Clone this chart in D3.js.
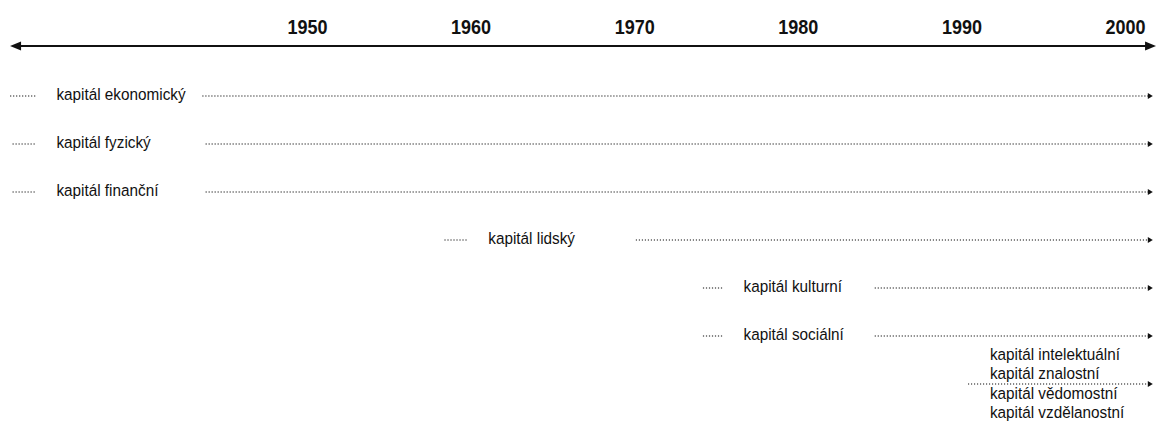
<!DOCTYPE html>
<html>
<head>
<meta charset="utf-8">
<script src="https://cdn.jsdelivr.net/npm/d3@7"></script>
<style>
  body { margin: 0; background: #fff; }
  svg { display: block; }
  .year { font-family: "Liberation Sans", Arial, sans-serif; font-weight: bold; font-size: 20px; fill: #111; }
  .label { font-family: "Liberation Sans", Arial, sans-serif; font-size: 17px; fill: #111; }
</style>
</head>
<body>
<svg width="1156" height="425"></svg>
<script>
// tick labels on the timeline
const years = [1950, 1960, 1970, 1980, 1990, 2000]

// kinds of capital, top to bottom
const capitals = [
  ['kapitál ekonomický'],
  ['kapitál fyzický'],
  ['kapitál finanční'],
  ['kapitál lidský'],
  ['kapitál kulturní'],
  ['kapitál sociální'],
  ['kapitál intelektuální', 'kapitál znalostní', 'kapitál vědomostní', 'kapitál vzdělanostní']
]

// years: short leading dots, then the main dotted line
const dotsFrom = [1931.85, 1932, 1932, 1958.4, 1974.2, 1974.2, null]
const dotsTo = [1933.4, 1933.4, 1933.4, 1959.8, 1975.4, 1975.4, null]
const lineFrom = [1943.6, 1943.8, 1943.8, 1970.1, 1984.7, 1984.7, 1990.4]
const lineTo = 2001.7
const axisFrom = 1931.85
const axisTo = 2001.9

const svg = d3.select('svg')

// year -> x
const x = d3.scaleLinear()
  .domain([1950, 2000])
  .range([307, 1125])

// row index -> y
const y = d3.scalePoint()
  .domain(d3.range(capitals.length))
  .range([96, 384])

const axisY = 46
// the original font is a condensed one, squeeze the text a little
const squeeze = 0.9

// year labels above the axis
svg.append('g')
  .attr('transform', `translate(0, ${axisY})`)
  .call(d3.axisTop(x).tickValues(years).tickSize(0).tickPadding(12).tickFormat(d3.format('d')))
  .call(g => g.select('.domain').remove())
  .selectAll('text')
  .attr('class', 'year')
  .attr('fill', null)
  .style('font-size', null)
  .style('font-family', null)
  .attr('transform', `scale(${squeeze}, 1)`)

// main axis line with arrowheads on both ends
svg.append('line')
  .attr('x1', x(axisFrom) + 8)
  .attr('x2', x(axisTo) - 8)
  .attr('y1', axisY)
  .attr('y2', axisY)
  .attr('stroke', '#111')
  .attr('stroke-width', 2)

svg.append('path')
  .attr('d', `M${x(axisFrom)},${axisY} l11,-4.5 l0,9 z`)
  .attr('fill', '#111')
svg.append('path')
  .attr('d', `M${x(axisTo)},${axisY} l-11,-4.5 l0,9 z`)
  .attr('fill', '#111')

// rows
const rows = svg.selectAll('g.row')
  .data(capitals)
  .enter()
  .append('g')
  .attr('class', 'row')
  .attr('transform', (d, i) => `translate(0, ${y(i)})`)

// short leading dots
rows.filter((d, i) => dotsFrom[i] !== null)
  .append('line')
  .attr('x1', d => x(dotsFrom[capitals.indexOf(d)]))
  .attr('x2', d => x(dotsTo[capitals.indexOf(d)]))
  .attr('y1', 0)
  .attr('y2', 0)
  .attr('stroke', '#111')
  .attr('stroke-width', 1.2)
  .attr('stroke-dasharray', '1.2,1.8')

// single labels sit after the leading dots
rows.filter(d => d.length === 1)
  .append('text')
  .attr('class', 'label')
  .attr('transform', d => `translate(${x(dotsTo[capitals.indexOf(d)]) + 21}, -2) scale(${squeeze}, 1)`)
  .attr('dy', '0.35em')
  .text(d => d[0])

// stacked labels for the last row
rows.filter(d => d.length > 1)
  .selectAll('text')
  .data(d => d)
  .enter()
  .append('text')
  .attr('class', 'label')
  .attr('transform', (d, i) => `translate(${x(lineFrom[capitals.length - 1]) + 22}, ${-30 + i * 19.4}) scale(${squeeze}, 1)`)
  .attr('dy', '0.35em')
  .text(d => d)

// main dotted line
rows.append('line')
  .attr('x1', d => x(lineFrom[capitals.indexOf(d)]))
  .attr('x2', x(lineTo) - 4)
  .attr('y1', 0)
  .attr('y2', 0)
  .attr('stroke', '#111')
  .attr('stroke-width', 1.2)
  .attr('stroke-dasharray', '1.2,1.8')

// small arrow at the end
rows.append('path')
  .attr('d', `M${x(lineTo)},0 l-5,-3 l0,6 z`)
  .attr('fill', '#111')
</script>
</body>
</html>
